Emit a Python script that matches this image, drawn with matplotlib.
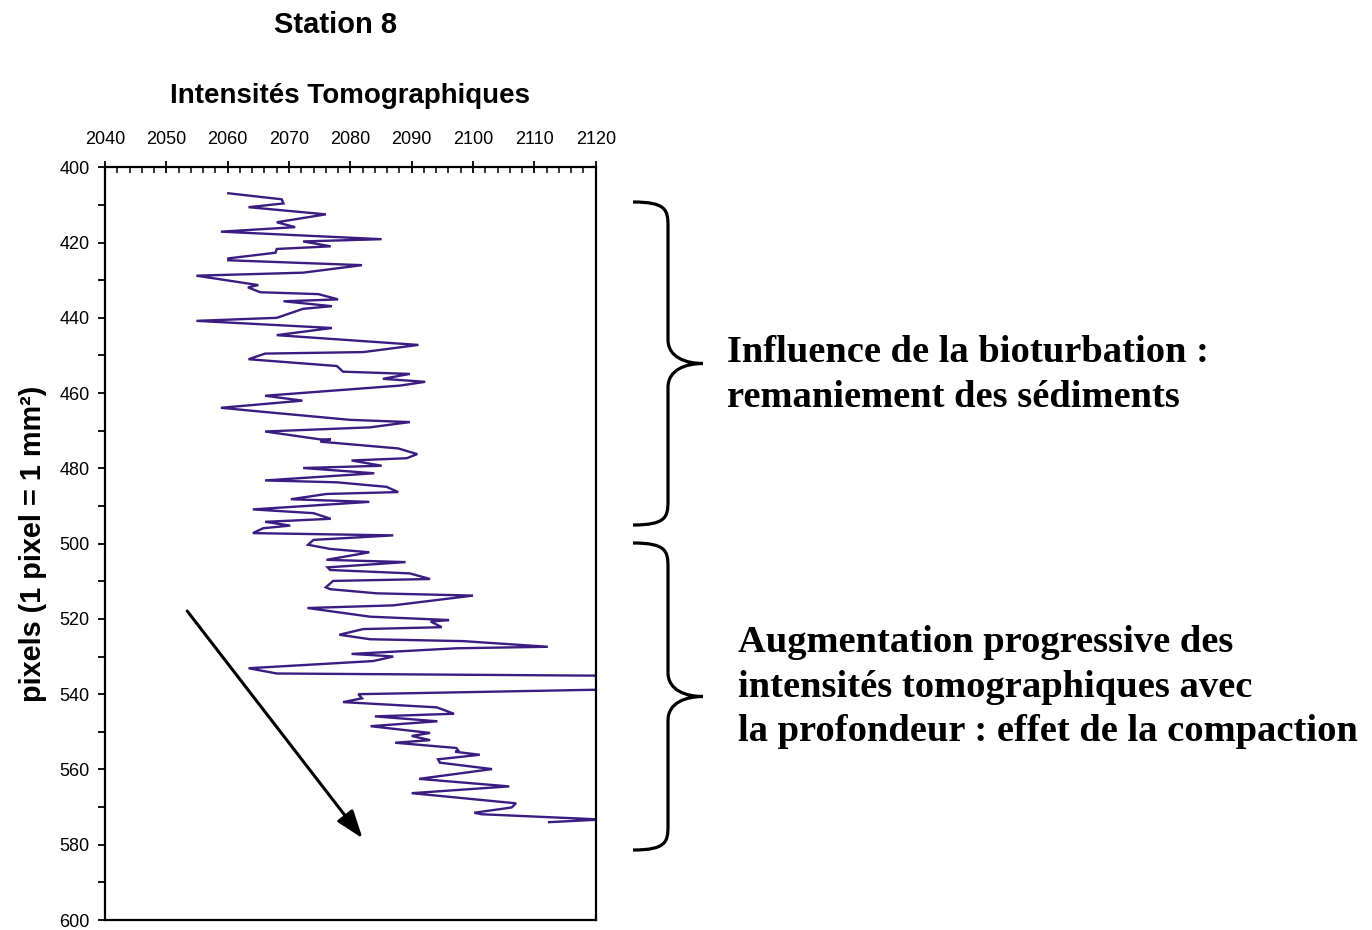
import matplotlib.pyplot as plt
from matplotlib.path import Path
from matplotlib.patches import PathPatch
from matplotlib.ticker import MultipleLocator

# profondeur (pixels) et intensite tomographique
depth = [406.9, 408.5, 409.6, 410.6, 412.5, 414.6, 415.9, 417.1, 419.1, 419.7,
         421.0, 421.7, 422.7, 424.2, 424.7, 426.0, 428.0, 428.8, 431.3, 431.9,
         433.2, 433.7, 435.1, 435.6, 436.9, 437.6, 440.0, 440.8, 442.7, 444.6,
         447.2, 449.1, 449.5, 451.0, 452.8, 454.3, 454.9, 456.2, 457.0, 458.0,
         460.7, 462.0, 463.9, 464.9, 467.1, 467.7, 469.1, 470.2, 472.3, 472.3,
         472.9, 474.7, 476.2, 477.3, 477.9, 479.3, 479.9, 481.3, 483.2, 483.7,
         484.9, 486.3, 486.8, 488.2, 488.9, 490.9, 491.9, 493.4, 494.2, 495.2,
         495.9, 497.2, 497.8, 499.0, 500.3, 501.4, 502.3, 504.3, 504.9, 506.3,
         507.0, 507.9, 509.4, 509.9, 511.6, 512.1, 513.2, 513.8, 516.4, 517.1,
         519.4, 520.3, 520.7, 522.2, 522.7, 524.2, 525.4, 525.9, 527.4, 527.8,
         529.3, 529.8, 530.0, 531.2, 533.1, 534.5, 535.4, 537.9, 540.0, 541.1,
         542.1, 543.5, 545.2, 545.9, 547.2, 548.5, 550.3, 551.1, 552.2, 552.9,
         554.3, 555.0, 555.3, 556.1, 557.3, 558.2, 559.9, 562.5, 564.5, 566.3,
         569.0, 570.1, 571.5, 571.9, 573.3, 574.0]
intensity = [2060.1, 2068.8, 2069.1, 2063.4, 2076.0, 2068.0, 2071.0, 2058.9, 2085.1, 2072.3,
             2076.8, 2068.0, 2067.8, 2060.1, 2060.1, 2081.9, 2072.3, 2054.9, 2065.0, 2063.3,
             2065.3, 2074.8, 2078.0, 2069.1, 2077.0, 2072.3, 2068.0, 2054.9, 2077.0, 2068.0,
             2091.1, 2082.1, 2066.1, 2063.4, 2077.8, 2078.8, 2089.7, 2085.3, 2092.2, 2088.1,
             2066.1, 2072.2, 2058.9, 2065.3, 2079.9, 2089.7, 2083.2, 2066.1, 2075.1, 2076.8,
             2075.1, 2087.8, 2090.9, 2089.2, 2080.2, 2085.1, 2072.3, 2083.9, 2066.1, 2077.8,
             2085.9, 2087.8, 2076.1, 2070.3, 2083.1, 2064.1, 2074.0, 2076.8, 2066.1, 2070.2,
             2065.8, 2064.1, 2087.0, 2074.0, 2073.1, 2076.7, 2083.1, 2076.1, 2089.0, 2076.3,
             2076.7, 2089.7, 2093.0, 2077.2, 2076.0, 2076.7, 2084.3, 2100.0, 2087.0, 2073.0,
             2083.2, 2096.1, 2093.1, 2094.9, 2082.1, 2078.2, 2083.2, 2098.4, 2112.2, 2097.3,
             2080.2, 2085.4, 2087.0, 2083.7, 2063.4, 2068.0, 2150.0, 2150.0, 2081.3, 2081.9,
             2078.8, 2094.1, 2096.9, 2084.0, 2094.2, 2083.3, 2093.0, 2090.0, 2093.0, 2087.3,
             2097.3, 2097.6, 2097.1, 2101.1, 2094.3, 2094.6, 2103.1, 2091.2, 2105.9, 2090.0,
             2107.0, 2106.3, 2100.2, 2101.4, 2121.0, 2112.4]

title = "Station 8"
xlabel = "Intensités Tomographiques"
ylabel = "pixels (1 pixel = 1 mm²)"
note_top = "Influence de la bioturbation :\nremaniement des sédiments"
note_bottom = ("Augmentation progressive des\nintensités tomographiques avec\n"
               "la profondeur : effet de la compaction")

W, H = 1372, 930
plt.rcParams["font.family"] = ["Liberation Sans", "DejaVu Sans"]

fig = plt.figure(figsize=(W / 100, H / 100), dpi=100)
ax = fig.add_axes([105 / W, 1 - 920 / H, 490.7 / W, 752.7 / H])

ax.plot(intensity, depth, color="#3b1c82", lw=1.7, solid_joinstyle="miter")
ax.set_xlim(2040, 2120)
ax.set_ylim(600, 400)

ax.xaxis.tick_top()
ax.xaxis.set_label_position("top")
ax.xaxis.set_major_locator(MultipleLocator(10))
ax.xaxis.set_minor_locator(MultipleLocator(2))
ax.yaxis.set_major_locator(MultipleLocator(20))
ax.yaxis.set_minor_locator(MultipleLocator(10))
ax.tick_params(axis="x", which="major", direction="inout", length=8, width=1.3,
               labelsize=13, pad=10)
ax.tick_params(axis="x", which="minor", direction="in", length=4, width=1.1)
ax.tick_params(axis="y", which="both", direction="out", length=5, width=1.3,
               labelsize=13, pad=6)
for s in ax.spines.values():
    s.set_linewidth(1.6)

ax.set_xlabel(xlabel, fontsize=20, fontweight="bold", labelpad=20)
ax.set_ylabel(ylabel, fontsize=20.8, fontweight="bold", labelpad=9)
fig.text(336 / W, 1 - 25 / H, title, fontsize=21, fontweight="bold",
         ha="center", va="center")

# fleche
ax.annotate("", xy=(2082.0, 578.3), xytext=(2053.4, 517.9),
            arrowprops=dict(arrowstyle="-|>,head_length=1.7,head_width=0.6",
                            color="black", lw=2.2, shrinkA=0, shrinkB=0))


# accolades
def brace(y0, y1, x_end=633, x_spine=668, x_tip=703):
    ym = (y0 + y1) / 2
    verts = [
        (x_end, y0),
        (x_spine - 2, y0), (x_spine, y0 + 8), (x_spine, y0 + 24),
        (x_spine, ym - 24),
        (x_spine, ym - 6), (x_spine + 18, ym), (x_tip, ym),
        (x_spine + 18, ym), (x_spine, ym + 6), (x_spine, ym + 24),
        (x_spine, y1 - 24),
        (x_spine, y1 - 8), (x_spine - 2, y1), (x_end, y1),
    ]
    codes = [Path.MOVETO,
             Path.CURVE4, Path.CURVE4, Path.CURVE4,
             Path.LINETO,
             Path.CURVE4, Path.CURVE4, Path.CURVE4,
             Path.CURVE4, Path.CURVE4, Path.CURVE4,
             Path.LINETO,
             Path.CURVE4, Path.CURVE4, Path.CURVE4]
    verts = [(x / W, 1 - y / H) for x, y in verts]
    fig.add_artist(PathPatch(Path(verts, codes), fill=False, lw=2.3,
                             ec="black", transform=fig.transFigure))


brace(202, 525)
brace(543, 850)

serif = ["Liberation Serif", "DejaVu Serif"]
fig.text(727 / W, 1 - 375 / H, note_top, family=serif, fontsize=27.7,
         fontweight="bold", ha="left", va="center", linespacing=1.35)
fig.text(738 / W, 1 - 687 / H, note_bottom, family=serif, fontsize=27.7,
         fontweight="bold", ha="left", va="center", linespacing=1.35)

fig.savefig("out.png", dpi=100)
